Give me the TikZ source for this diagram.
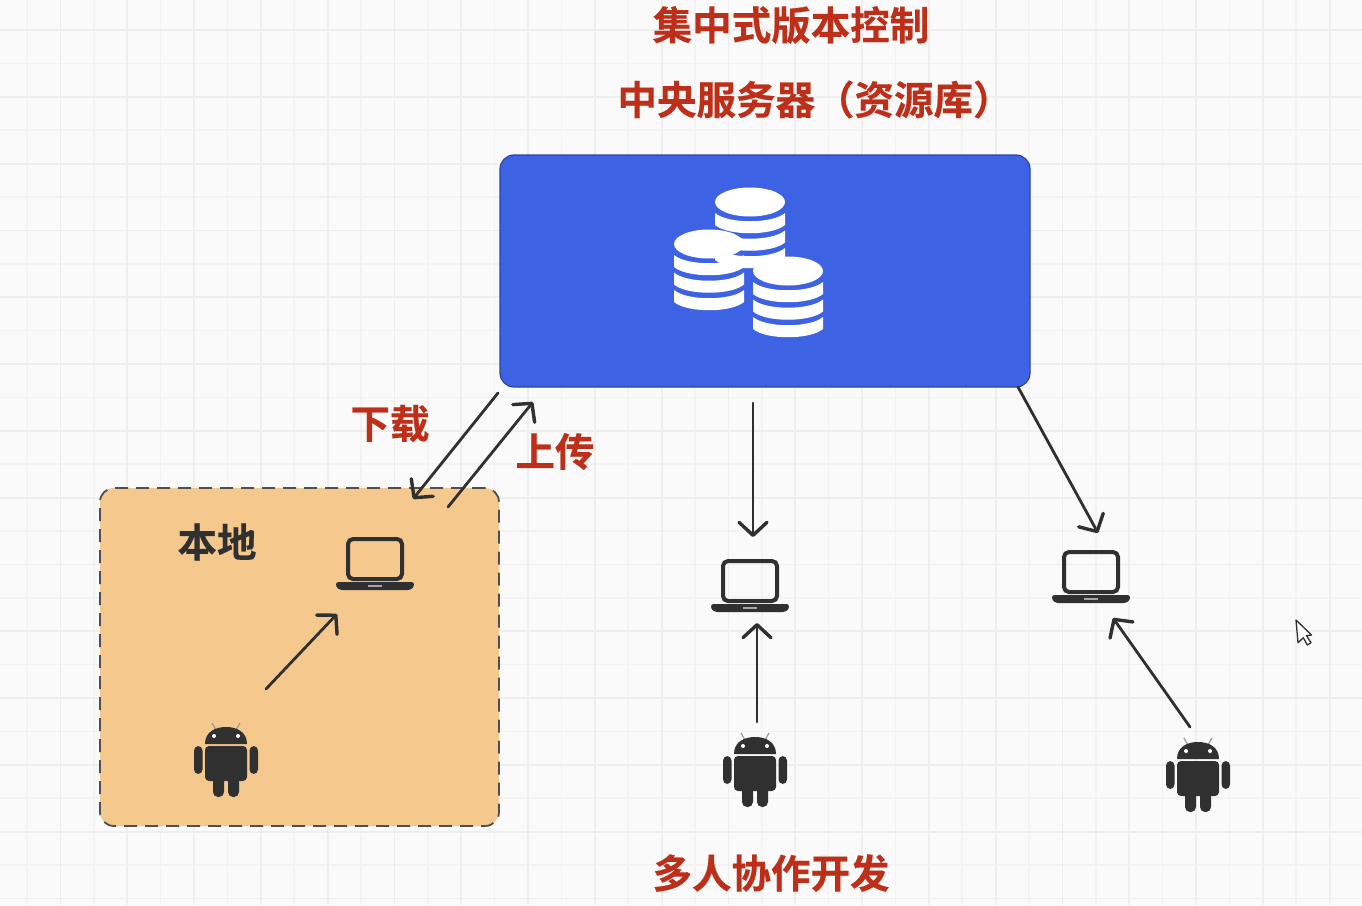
\documentclass[tikz,border=0pt]{standalone}
\usepackage{fontspec}
\usetikzlibrary{arrows.meta}
\newfontfamily\cjk{Noto Sans CJK SC Bold}[FakeBold=0.4]

\definecolor{paper}{HTML}{FAFAFA}
\definecolor{gridminor}{HTML}{F3F3F3}
\definecolor{gridmajor}{HTML}{EEEEEE}
\definecolor{serverblue}{HTML}{3D63E4}
\definecolor{localfill}{HTML}{F5C98E}
\definecolor{titlered}{HTML}{BE2F1A}
\definecolor{ink}{HTML}{303030}

\tikzset{
	title/.style={font=\cjk\fontsize{39.5}{46}\selectfont, text=titlered, inner sep=0pt},
	icon/.style={minimum width=60pt, minimum height=60pt, inner sep=0pt},
	flow/.style={draw=ink, line width=2.8pt, line cap=round, -{Straight Barb[length=13pt,width=28pt,line width=3.4pt,round]}},
	laptop/.pic={
		\draw[ink, line width=4pt, rounded corners=5pt] (-27,-25) rectangle (27,15);
		\fill[ink, rounded corners=2.5pt] (-39,18) -- (39,18) -- (39,23) -- (35,26) -- (-35,26) -- (-39,23) -- cycle;
		\fill[gray!70] (-7,21) rectangle (7,23);
	},
	droid/.pic={
		\draw[gray!80, line width=1.2pt] (-10,-30) -- (-14,-37) (10,-30) -- (14,-37);
		\fill[ink] (-21,-16) .. controls (-21,-28) and (-11,-33) .. (0,-33) .. controls (11,-33) and (21,-28) .. (21,-16) -- cycle;
		\fill[white] (-12,-24) circle (2pt) (12,-24) circle (2pt);
		\fill[ink, rounded corners=4pt] (-21,-14) -- (21,-14) -- (21,21) -- (-21,21) -- cycle;
		\fill[ink, rounded corners=4.5pt] (-32,-14) rectangle (-23.5,14);
		\fill[ink, rounded corners=4.5pt] (23.5,-14) rectangle (32,14);
		\fill[ink, rounded corners=5pt] (-13,10) rectangle (-2,37);
		\fill[ink, rounded corners=5pt] (2,10) rectangle (13,37);
	},
	coins/.pic={
		\foreach \a in {11,28.5,46}{
			\fill[white] (-35,\a) .. controls (-22,\a+11) and (22,\a+11) .. (35,\a) -- (35,\a+12) .. controls (22,\a+23) and (-22,\a+23) .. (-35,\a+12) -- cycle;
		}
		\fill[white] (0,0) ellipse [x radius=35, y radius=14.5];
	}
}

\begin{document}
\begin{tikzpicture}[x=1pt, y=-1pt]
	\useasboundingbox (0,0) rectangle (1362,905);
	\fill[paper] (0,0) rectangle (1362,905);

	% background grid
	\foreach \k in {0,...,40}{
		\pgfmathsetmacro{\gx}{27+33.4*\k}
		\pgfmathsetmacro{\gy}{30+33.4*\k}
		\draw[gridminor, line width=1.6pt] (\gx,0) -- (\gx,905);
		\draw[gridminor, line width=1.6pt] (0,\gy) -- (1362,\gy);
	}
	\foreach \k in {0,...,20}{
		\pgfmathsetmacro{\gx}{60.4+66.8*\k}
		\pgfmathsetmacro{\gy}{30+66.8*\k}
		\draw[gridmajor, line width=1.8pt] (\gx,0) -- (\gx,905);
		\draw[gridmajor, line width=1.8pt] (0,\gy) -- (1362,\gy);
	}

	\node[title] (heading) at (791,25) {集中式版本控制};
	\node[title] (serverlabel) at (815,99.5) {中央服务器（资源库）};
	\node[title] (downlabel) at (390,423.5) {下载};
	\node[title] (uplabel) at (555,451.5) {上传};
	\node[title] (teamlabel) at (771,873) {多人协作开发};

	\node[draw=serverblue!70!black, line width=1.2pt, fill=serverblue, rounded corners=14pt, outer sep=0pt,
		minimum width=530pt, minimum height=232pt] (server) at (765,271) {};
	\pic at (750,202) {coins};
	\pic at (709,244) {coins};
	\pic at (788,271) {coins};

	\node[draw=ink!85, line width=1.8pt, dash pattern=on 13pt off 8pt, fill=localfill, rounded corners=14pt, outer sep=0pt,
		minimum width=399pt, minimum height=338pt] (localbox) at (299.5,657) {};
	\node[title, text=ink] (locallabel) at (217,542) {本地};

	% laptops
	\node[icon] (laptopA) at (375,564) {};
	\node[icon] (laptopB) at (750,586) {};
	\node[icon] (laptopC) at (1091,577) {};
	\pic at (laptopA) {laptop};
	\pic at (laptopB) {laptop};
	\pic at (laptopC) {laptop};

	% phones
	\node[icon] (droidA) at (226,760) {};
	\node[icon] (droidB) at (755,770) {};
	\node[icon] (droidC) at (1198,775) {};
	\pic at (droidA) {droid};
	\pic at (droidB) {droid};
	\pic at (droidC) {droid};

	\draw[flow] ([shift={(-2,6)}]server.south west) -- ([shift={(-86,11)}]localbox.north east);
	\draw[flow] ([shift={(-51,19)}]localbox.north east) -- ([shift={(33,15)}]server.south west);
	\draw[flow] ([shift={(-12,16)}]server.south) -- ([shift={(3,-49)}]laptopB.center);
	\draw[flow] ([shift={(-12,0)}]server.south east) -- ([shift={(7,-44)}]laptopC.center);
	\draw[flow] ([shift={(40,-71)}]droidA.center) -- ([shift={(-38,50)}]laptopA.center);
	\draw[flow] ([shift={(2,-48)}]droidB.center) -- ([shift={(7,37)}]laptopB.center);
	\draw[flow] ([shift={(-8,-48)}]droidC.center) -- ([shift={(22,41)}]laptopC.center);

	% mouse pointer
	\draw[ink, fill=white, line width=1.3pt, line join=round] (1296,620) -- (1311.5,635) -- (1306.5,635.7) -- (1311,642.7) -- (1307.3,645) -- (1303.3,637.7) -- (1298,642.7) -- cycle;
\end{tikzpicture}
\end{document}
